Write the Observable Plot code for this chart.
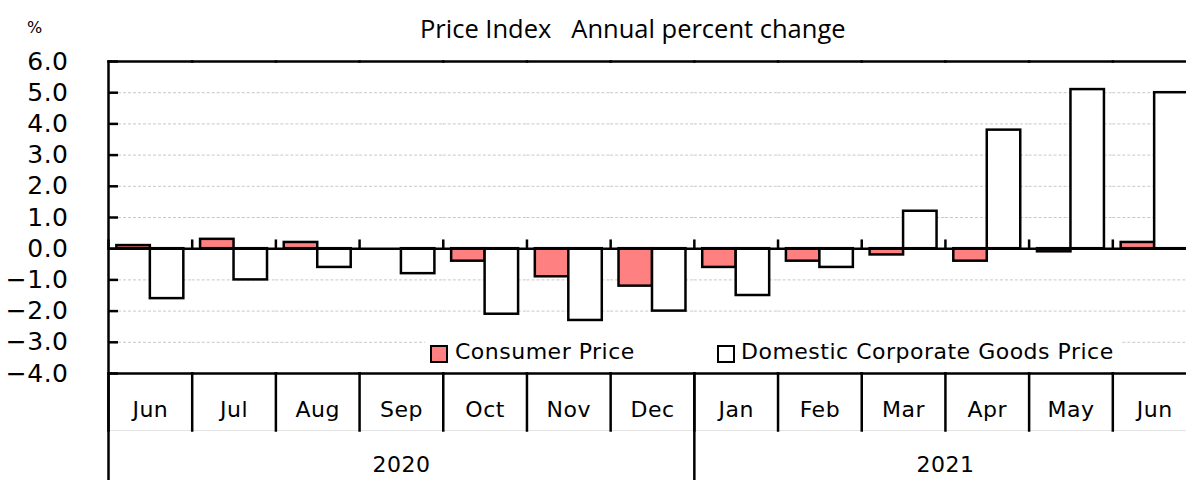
<!DOCTYPE html>
<html>
<head>
<meta charset="utf-8">
<script src="https://cdn.jsdelivr.net/npm/d3@7"></script>
<script src="https://cdn.jsdelivr.net/npm/@observablehq/plot@0.6"></script>
<style>
  html, body { margin: 0; padding: 0; background: #fff; overflow: hidden; width: 1186px; height: 480px; }
  #wrap { position: relative; width: 1196px; height: 480px; }
  #title { position: absolute; left: 420px; top: 11px; font-family: "Open Sans", sans-serif; font-size: 25.5px; white-space: pre; color: #000; line-height: 34px; }
  #unit { position: absolute; left: 27px; top: 18px; font-family: "DejaVu Sans", sans-serif; font-size: 16px; color: #000; }
  .lg-box { position: absolute; width: 14px; height: 14px; border: 2px solid #000; }
  .lg-txt { position: absolute; font-family: "DejaVu Sans", sans-serif; font-size: 22px; letter-spacing: 0.5px; line-height: 26px; white-space: pre; color: #000; }
  #legend { position: absolute; left: 425px; top: 338px; width: 697px; height: 30px; background: #fff; }
</style>
</head>
<body>
<div id="wrap">
  <div id="chart"></div>
  <div id="title">Price Index   Annual percent change</div>
  <div id="unit">%</div>
  <div id="legend"></div>
</div>
<script>
// ---- data ----
const months = ["Jun","Jul","Aug","Sep","Oct","Nov","Dec","Jan","Feb","Mar","Apr","May","Jun"];
const monthYears = ["2020","2020","2020","2020","2020","2020","2020","2021","2021","2021","2021","2021","2021"];
const years = ["2020","2021"];
const seriesNames = ["Consumer Price","Domestic Corporate Goods Price"];
const consumerPrice = [0.1, 0.3, 0.2, 0.0, -0.4, -0.9, -1.2, -0.6, -0.4, -0.2, -0.4, -0.1, 0.2];
const corporateGoodsPrice = [-1.6, -1.0, -0.6, -0.8, -2.1, -2.3, -2.0, -1.5, -0.6, 1.2, 3.8, 5.1, 5.0];
const yTicks = [-4, -3, -2, -1, 0, 1, 2, 3, 4, 5, 6];
const seriesColors = ["#ff8080", "#ffffff"];

// ---- tables ----
const keys = months.map((m, i) => monthYears[i] + "-" + m);
const monthRows = months.map((m, i) => ({key: keys[i], label: m, year: monthYears[i]}));
const rows = [];
keys.forEach((k, i) => {
  rows.push({key: k, series: seriesNames[0], value: consumerPrice[i]});
  rows.push({key: k, series: seriesNames[1], value: corporateGoodsPrice[i]});
});
const yearInfo = years.map(y => {
  const ks = monthRows.filter(d => d.year === y).map(d => d.key);
  const n = ks.length;
  return {year: y, first: ks[0], key: ks[Math.floor((n - 1) / 2)], odd: n % 2 === 1};
});

// ---- layout ----
const W = 1196, H = 480, mt = 61, mb = 107, ml = 108, mr = 0;
const plotH = H - mt - mb;
const facetW = (W - ml - mr) / keys.length;
const zeroPx = plotH * (6 - 0) / (6 - (-4));
const SW = 2.5;
const fmt = d => (d < 0 ? "\u2212" : "") + Math.abs(d).toFixed(1);
const font = "DejaVu Sans";

const chart = Plot.plot({
  width: W, height: H,
  marginTop: mt, marginBottom: mb, marginLeft: ml, marginRight: mr,
  style: {fontFamily: font, background: "white", color: "black", overflow: "visible", maxWidth: "none"},
  fx: {domain: keys, padding: 0, round: false, axis: null},
  x: {domain: seriesNames, paddingInner: 0, paddingOuter: 0.25, round: false, axis: null},
  y: {domain: [-4, 6], axis: null},
  color: {domain: seriesNames, range: seriesColors},
  marks: [
    Plot.gridY(yTicks.filter(d => d > -4 && d < 6), {stroke: "#c8c8c8", strokeOpacity: 1, strokeDasharray: "3,2", strokeWidth: 1}),
    Plot.barY(rows, {fx: "key", x: "series", y: "value", fill: "series", stroke: "black", strokeWidth: SW}),
    Plot.ruleY([0], {stroke: "black", strokeWidth: SW}),
    // zero-line ticks at month boundaries
    Plot.frame({anchor: "left", insetTop: zeroPx - 8, insetBottom: plotH - zeroPx, stroke: "black", strokeWidth: SW}),
    // top and bottom borders
    Plot.frame({anchor: "top", stroke: "black", strokeWidth: SW}),
    Plot.frame({anchor: "bottom", stroke: "black", strokeWidth: SW}),
    // faint line under month row
    Plot.frame({anchor: "bottom", insetBottom: -57, stroke: "#e4e4e4", strokeWidth: 1}),
    // month separators
    Plot.frame({anchor: "left", insetTop: plotH, insetBottom: -57, stroke: "black", strokeWidth: SW}),
    // y axis line
    Plot.frame({fx: keys[0], anchor: "left", insetBottom: -mb, stroke: "black", strokeWidth: SW}),
    // year separator
    Plot.frame({fx: yearInfo[1].first, anchor: "left", insetTop: plotH, insetBottom: -mb, stroke: "black", strokeWidth: SW}),
    // inward y ticks
    Plot.ruleY(yTicks, {y: d => d, fx: () => keys[0], insetRight: facetW - 10, stroke: "black", strokeWidth: SW}),
    Plot.axisY(yTicks, {anchor: "left", tickSize: 0, tickPadding: 40, tickFormat: fmt, fontSize: 25, label: null}),
    // month labels
    Plot.text(monthRows, {fx: "key", text: "label", frameAnchor: "bottom", dy: 43, fontSize: 22, fill: "black"}),
    // year labels
    Plot.text(yearInfo.filter(d => d.odd), {fx: "key", text: "year", frameAnchor: "bottom", textAnchor: "middle", dy: 98, fontSize: 22, fill: "black"}),
    Plot.text(yearInfo.filter(d => !d.odd), {fx: "key", text: "year", frameAnchor: "bottom-right", textAnchor: "middle", dy: 98, fontSize: 22, fill: "black"})
  ]
});
chart.querySelectorAll("text").forEach(t => t.setAttribute("letter-spacing", "0.5"));
document.getElementById("chart").appendChild(chart);

// ---- legend ----
const legend = document.getElementById("legend");
const lgPos = [{box: 5, txt: 30}, {box: 292, txt: 316}];
seriesNames.forEach((s, i) => {
  const b = document.createElement("div");
  b.className = "lg-box";
  b.style.left = lgPos[i].box + "px"; b.style.top = "7px";
  b.style.background = seriesColors[i];
  legend.appendChild(b);
  const t = document.createElement("div");
  t.className = "lg-txt";
  t.style.left = lgPos[i].txt + "px"; t.style.top = "1px";
  t.textContent = s;
  legend.appendChild(t);
});
</script>
</body>
</html>
